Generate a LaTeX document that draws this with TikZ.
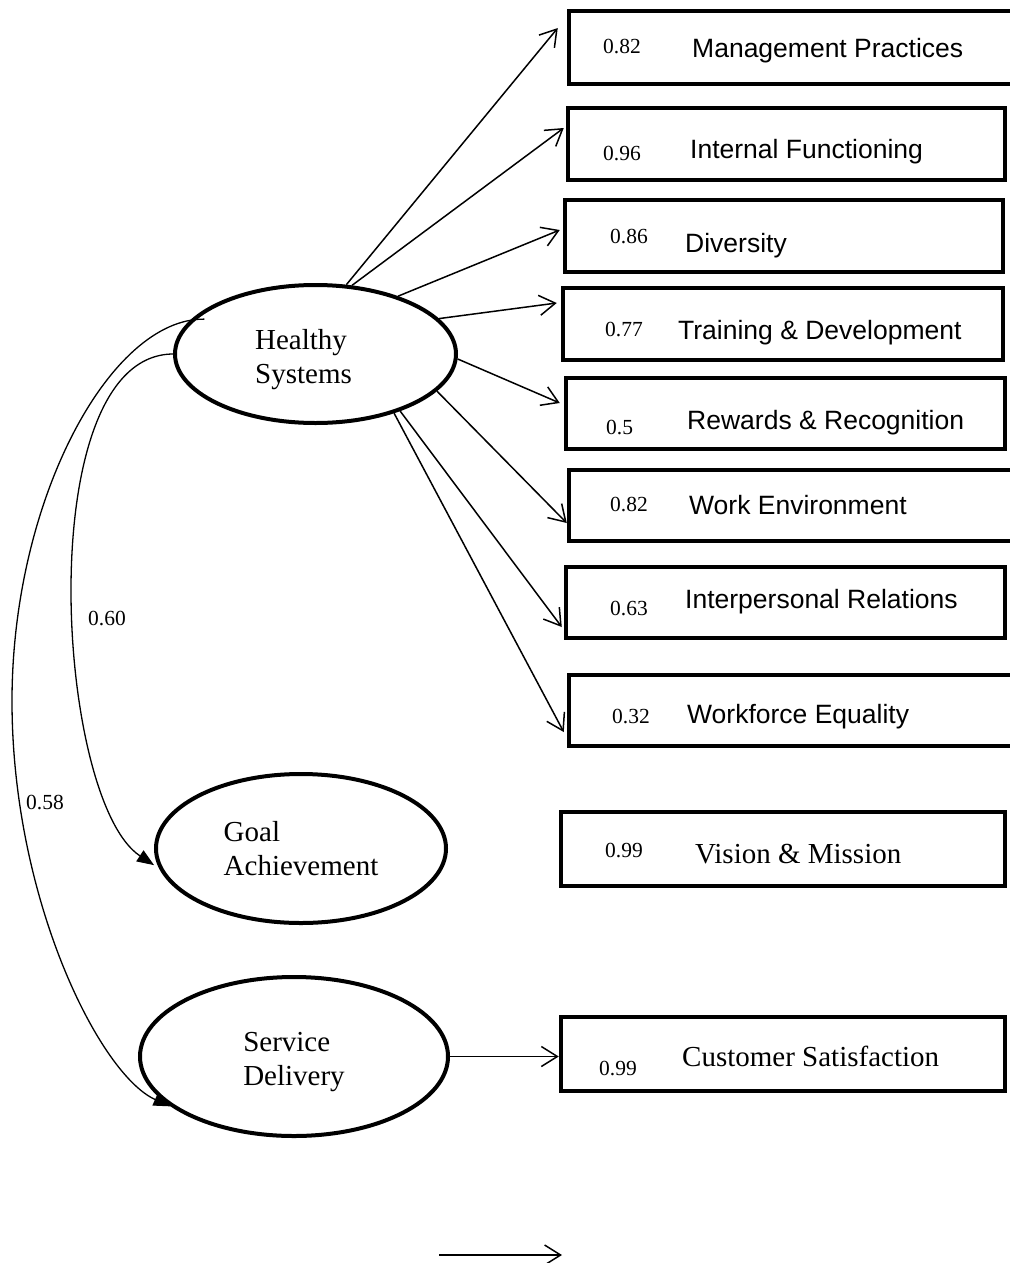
\documentclass[tikz,border=0pt]{standalone}
\usepackage{fontspec}
\setmainfont{Liberation Serif}
\setsansfont{Liberation Sans}
\usepackage{tikz}
\usetikzlibrary{calc}
\usetikzlibrary{arrows.meta}
\usetikzlibrary{shapes.geometric}
\tikzset{>={Straight Barb[length=16pt,width=20pt]}}
\tikzstyle{latent}=[ellipse,draw,line width=4pt,inner sep=0,align=left,font=\fontsize{29}{34}\selectfont]
\tikzstyle{indicator}=[rectangle,draw,line width=4.5pt,inner sep=0]
\tikzstyle{coef}=[anchor=base west,inner sep=0,font=\fontsize{21.5}{24}\selectfont]
\tikzstyle{itemname}=[anchor=base west,inner sep=0,font=\sffamily\fontsize{26.5}{30}\selectfont]
\tikzstyle{serifname}=[anchor=base west,inner sep=0,font=\fontsize{29}{34}\selectfont]
\tikzstyle{loading}=[->,line width=1.5pt]
\tikzstyle{corr}=[-{Triangle[length=17pt,width=13pt]},line width=1.3pt]

\begin{document}
\begin{tikzpicture}[x=1pt,y=-1pt]
  \useasboundingbox (0,0) rectangle (1009,1263);

  % LATENT VARIABLES
  \node[latent,minimum width=281pt,minimum height=138pt] (hs) at (315.5,354)
    {\rule{0pt}{32pt}Healthy\\Systems\hspace*{24pt}};
  \node[latent,minimum width=290pt,minimum height=149pt] (ga) at (301,848.5) {Goal\\Achievement};
  \node[latent,minimum width=308pt,minimum height=159pt] (sd) at (294,1056.5)
    {\rule{0pt}{30pt}Service\\Delivery};

  % INDICATORS
  \node[indicator,minimum width=444pt,minimum height=73pt] (mp)  at (791,47.5)    {};
  \node[indicator,minimum width=437pt,minimum height=72pt] (if)  at (786.5,144)   {};
  \node[indicator,minimum width=438pt,minimum height=72pt] (div) at (784,236)     {};
  \node[indicator,minimum width=440pt,minimum height=72pt] (td)  at (783,324)     {};
  \node[indicator,minimum width=439pt,minimum height=71pt] (rr)  at (785.5,413.5) {};
  \node[indicator,minimum width=444pt,minimum height=71pt] (we)  at (791,505.5)   {};
  \node[indicator,minimum width=439pt,minimum height=71pt] (ir)  at (785.5,602.5) {};
  \node[indicator,minimum width=444pt,minimum height=71pt] (wfe) at (791,710.5)   {};
  \node[indicator,minimum width=444pt,minimum height=74pt] (vm)  at (783,849)     {};
  \node[indicator,minimum width=444pt,minimum height=74pt] (cs)  at (783,1054)    {};

  \node[coef] (mpc)  at (603,53)   {0.82};
  \node[coef] (ifc)  at (603,160)  {0.96};
  \node[coef] (divc) at (610,243)  {0.86};
  \node[coef] (tdc)  at (605,336)  {0.77};
  \node[coef] (rrc)  at (606,434)  {0.5};
  \node[coef] (wec)  at (610,511)  {0.82};
  \node[coef] (irc)  at (610,615)  {0.63};
  \node[coef] (wfec) at (612,723)  {0.32};
  \node[coef] (vmc)  at (605,857)  {0.99};
  \node[coef] (csc)  at (599,1075) {0.99};

  \node[itemname]  (mpl)  at (692,58)   {Management Practices};
  \node[itemname]  (ifl)  at (690,158)  {Internal Functioning};
  \node[itemname]  (divl) at (685,252)  {Diversity};
  \node[itemname]  (tdl)  at (678,339)  {Training \& Development};
  \node[itemname]  (rrl)  at (687,429)  {Rewards \& Recognition};
  \node[itemname]  (wel)  at (689,514)  {Work Environment};
  \node[itemname]  (irl)  at (685,608)  {Interpersonal Relations};
  \node[itemname]  (wfel) at (687,723)  {Workforce Equality};
  \node[serifname] (vml)  at (695,863)  {Vision \& Mission};
  \node[serifname] (csl)  at (682,1066) {Customer Satisfaction};

  % LOADINGS
  \draw[loading] (hs.66)  -- ($(mp.west)+(-9,-19.5)$);
  \draw[loading] (hs.62)  -- ($(if.west)+(-2,-16)$);
  \draw[loading] (hs.35)  -- ($(div.west)+(-3,-6)$);
  \draw[loading] (hs.16)  -- ($(td.west)+(-4,-21)$);
  \draw[loading] (hs.-2)  -- ($(rr.west)+(-4,-10.5)$);
  \draw[loading] (hs.-17) -- ($(we.west)+(0,17.5)$);
  \draw[loading] (hs.-34) -- ($(ir.west)+(-2,24.5)$);
  \draw[loading] (hs.-37) -- ($(wfe.west)+(-3,21.5)$);
  \draw[loading] (sd.east) -- (sd.east -| cs.west);

  % CORRELATIONS
  \draw[corr,shorten >=6pt] (hs.west) .. controls (30,355) and (55,800) .. (ga.188);
  \draw[corr] ($(hs.160)+(4,7)$) .. controls (110,318) and (12,500) .. (12,701)
    .. controls (12,900) and (100,1075) .. (sd.202);
  \node[coef] (cor1) at (88,625) {0.60};
  \node[coef] (cor2) at (26,809) {0.58};

  % LONE ARROW
  \coordinate (ea) at (439,1255);
  \coordinate (eb) at (562,1255);
  \draw[loading] (ea) -- (eb);

\end{tikzpicture}
\end{document}
